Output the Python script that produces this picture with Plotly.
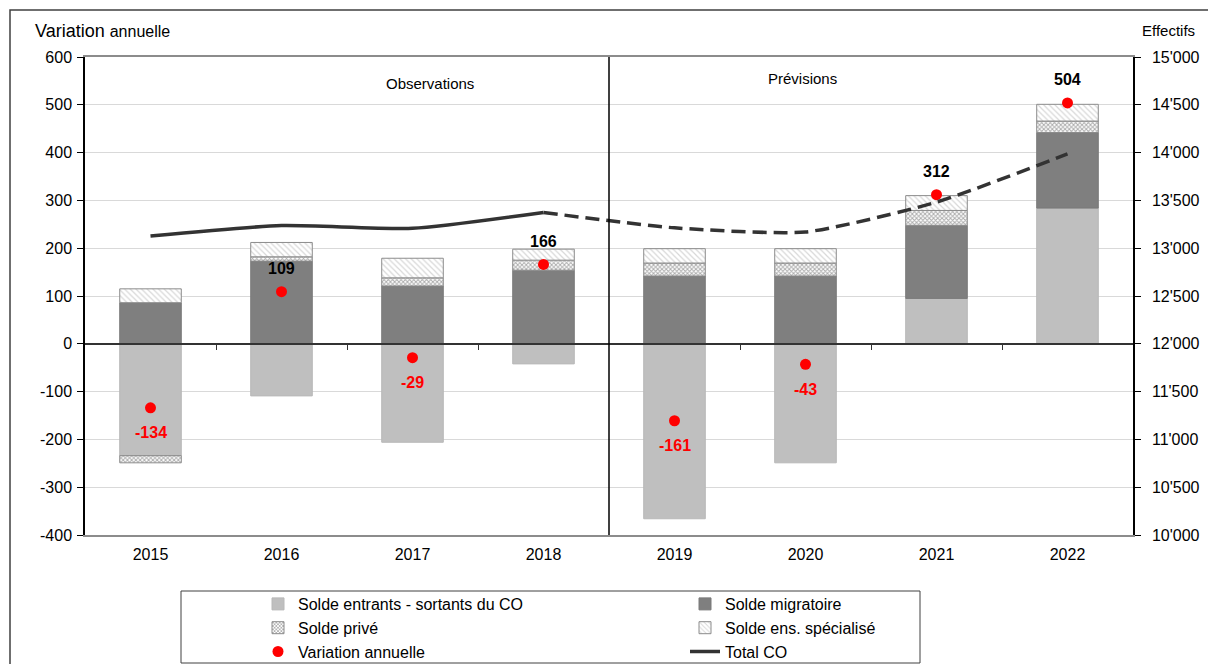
import plotly.graph_objects as go

years = ["2015", "2016", "2017", "2018", "2019", "2020", "2021", "2022"]
solde_entrants = [-234, -109, -206, -42, -366, -249, 95, 284]
solde_migratoire = [86, 173, 121, 154, 142, 142, 153, 158]
solde_prive = [-15, 9, 17, 21, 27, 27, 31, 24]
solde_specialise = [29, 30, 41, 23, 30, 30, 31, 35]
variation = [-134, 109, -29, 166, -161, -43, 312, 504]
total_co = [13128, 13237, 13208, 13374, 13213, 13170, 13482, 13986]
obs_years = years[:4]
obs_total = total_co[:4]
prev_years = years[3:]
prev_total = total_co[3:]

left_ticks = [-400, -300, -200, -100, 0, 100, 200, 300, 400, 500, 600]
left_ticktext = ["-400", "-300", "-200", "-100", "0", "100", "200", "300", "400", "500", "600"]
right_ticks = [10000, 10500, 11000, 11500, 12000, 12500, 13000, 13500, 14000, 14500, 15000]
right_ticktext = ["10'000", "10'500", "11'000", "11'500", "12'000", "12'500",
                  "13'000", "13'500", "14'000", "14'500", "15'000"]

W, H = 1208, 664
L, R, T, B = 85, 1133, 57, 535


def xp(px):
    return (px - L) / (R - L)


def yp(py):
    return (B - py) / (B - T)


FONT = "Liberation Sans, Arial, sans-serif"
fig = go.Figure()

fig.add_trace(go.Bar(x=years, y=solde_entrants, name="Solde entrants - sortants du CO",
                     marker=dict(color="#bfbfbf", line=dict(color="#b8b8b8", width=1)),
                     width=0.47, legendrank=1))
fig.add_trace(go.Bar(x=years, y=solde_migratoire, name="Solde migratoire",
                     marker=dict(color="#7f7f7f", line=dict(color="#7a7a7a", width=1)),
                     width=0.47, legendrank=2))
fig.add_trace(go.Bar(x=years, y=solde_prive, name="Solde privé",
                     marker=dict(color="white", line=dict(color="#8c8c8c", width=1),
                                 pattern=dict(shape="x", fgcolor="#5a5a5a", bgcolor="white",
                                              size=3, solidity=0.55)),
                     width=0.47, legendrank=3))
fig.add_trace(go.Bar(x=years, y=solde_specialise, name="Solde ens. spécialisé",
                     marker=dict(color="white", line=dict(color="#8c8c8c", width=1),
                                 pattern=dict(shape="\\", fgcolor="#b0b0b0", bgcolor="white",
                                              size=4, solidity=0.3)),
                     width=0.47, legendrank=4))

fig.add_trace(go.Scatter(x=obs_years, y=obs_total, yaxis="y2", mode="lines", name="Total CO",
                         line=dict(color="#333333", width=3.5, shape="spline", smoothing=0.6),
                         legendrank=6))
fig.add_trace(go.Scatter(x=prev_years, y=prev_total, yaxis="y2", mode="lines", name="Total CO",
                         showlegend=False,
                         line=dict(color="#333333", width=3.5, shape="spline", smoothing=0.6,
                                   dash="14px,7px")))
fig.add_trace(go.Scatter(x=years, y=variation, mode="markers", name="Variation annuelle",
                         marker=dict(color="#ff0000", size=11), legendrank=5))
# empty trace to establish the zero-line tick axis
fig.add_trace(go.Scatter(x=[], y=[], xaxis="x2", showlegend=False, hoverinfo="skip"))

annotations = []
for i, v in enumerate(variation):
    annotations.append(dict(x=i, y=v, xref="x", yref="y", text=f"<b>{v}</b>",
                            showarrow=False, yshift=23 if v > 0 else -25,
                            font=dict(family=FONT, size=16, color="black" if v > 0 else "#ff0000")))

annotations += [
    dict(x=xp(33), y=yp(31), xref="paper", yref="paper", xanchor="left", yanchor="middle",
         text="Variation <span style='font-size:16px'>annuelle</span>", showarrow=False,
         font=dict(family=FONT, size=18, color="black")),
    dict(x=xp(1197), y=yp(31), xref="paper", yref="paper", xanchor="right", yanchor="middle",
         text="Effectifs", showarrow=False, font=dict(family=FONT, size=15, color="black")),
    dict(x=xp(430), y=yp(84), xref="paper", yref="paper", xanchor="center", yanchor="middle",
         text="Observations", showarrow=False, font=dict(family=FONT, size=15, color="black")),
    dict(x=xp(802), y=yp(79), xref="paper", yref="paper", xanchor="center", yanchor="middle",
         text="Prévisions", showarrow=False, font=dict(family=FONT, size=15, color="black")),
]

shapes = [
    dict(type="line", xref="x", yref="paper", x0=3.5, x1=3.5, y0=0, y1=1,
         line=dict(color="black", width=1.5)),
    dict(type="rect", xref="paper", yref="paper", x0=xp(181), x1=xp(920), y0=yp(591), y1=yp(663),
         line=dict(color="#404040", width=1)),
    dict(type="rect", xref="paper", yref="paper", x0=xp(10), x1=xp(1215), y0=yp(10), y1=yp(672),
         line=dict(color="#404040", width=1.5)),
]

fig.update_layout(
    width=W, height=H,
    margin=dict(l=L, r=W - R, t=T, b=H - B, pad=0, autoexpand=False),
    paper_bgcolor="white", plot_bgcolor="white",
    barmode="relative", bargap=0.5,
    font=dict(family=FONT, size=16, color="black"),
    xaxis=dict(type="category", range=[-0.5, 7.5], showgrid=False, showline=True,
               linecolor="#8c8c8c", linewidth=1.5, mirror=True, ticks="",
               tickfont=dict(size=16), ticklabelstandoff=4, zeroline=False),
    xaxis2=dict(overlaying="x", anchor="free", position=0.4, range=[-0.5, 7.5],
                type="linear", showline=True, linecolor="#333333", linewidth=1.5,
                tickvals=[0.5, 1.5, 2.5, 4.5, 5.5, 6.5], ticktext=["", "", "", "", "", ""],
                ticks="outside", ticklen=5, tickcolor="#333333", showgrid=False, zeroline=False),
    yaxis=dict(range=[-400, 600], tickvals=left_ticks, ticktext=left_ticktext,
               showgrid=True, gridcolor="#d9d9d9", gridwidth=1, zeroline=False,
               showline=True, linecolor="black", linewidth=1.5, ticks="outside", ticklen=6,
               tickcolor="black", tickfont=dict(size=16), ticklabelstandoff=2),
    yaxis2=dict(range=[10000, 15000], tickvals=right_ticks, ticktext=right_ticktext,
                overlaying="y", side="right", showgrid=False, zeroline=False,
                showline=True, linecolor="black", linewidth=1.5, ticks="outside", ticklen=6,
                tickcolor="black", tickfont=dict(size=16), ticklabelstandoff=8),
    legend=dict(orientation="h", x=xp(258), y=yp(587), xanchor="left", yanchor="top",
                entrywidth=382, entrywidthmode="pixels", bgcolor="rgba(0,0,0,0)",
                font=dict(family=FONT, size=16), traceorder="normal"),
    annotations=annotations, shapes=shapes,
)

fig.write_html("out.html", config={"displayModeBar": False},
               post_script="document.body.style.margin='0px';")
